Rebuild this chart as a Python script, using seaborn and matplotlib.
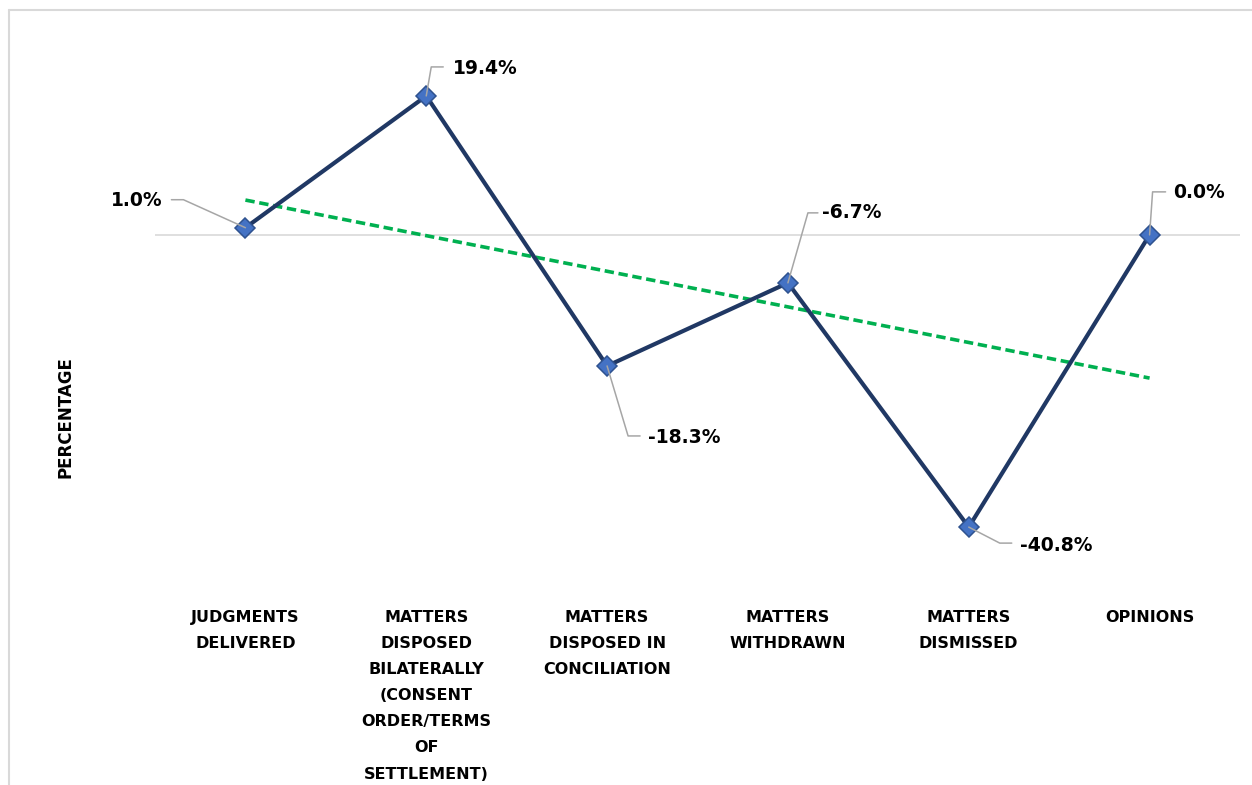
import numpy as np
import pandas as pd
import matplotlib
matplotlib.use("Agg")
import matplotlib.pyplot as plt
import seaborn as sns
from matplotlib.lines import Line2D
from matplotlib.transforms import IdentityTransform

# Category labels (wrapped) and year-on-year percentage change
categories = [
    "JUDGMENTS\nDELIVERED",
    "MATTERS\nDISPOSED\nBILATERALLY\n(CONSENT\nORDER/TERMS\nOF\nSETTLEMENT)",
    "MATTERS\nDISPOSED IN\nCONCILIATION",
    "MATTERS\nWITHDRAWN",
    "MATTERS\nDISMISSED",
    "OPINIONS",
]
change_pct = [1.0, 19.4, -18.3, -6.7, -40.8, 0.0]

sns.set_style("white")
plt.rcParams["font.family"] = ["DejaVu Sans"]

W, H = 1252, 785
fig = plt.figure(figsize=(W / 100, H / 100), dpi=100)
ax = fig.add_axes([155 / W, 1 - 593 / H, (1240 - 155) / W, (593 - 20) / H])

df = pd.DataFrame({"pos": np.arange(len(categories)), "pct": change_pct})

# zero reference line
ax.axhline(0, color="#D9D9D9", lw=1.2, zorder=0)

# linear trend
sns.regplot(data=df, x="pos", y="pct", ax=ax, scatter=False, ci=None,
            truncate=True,
            line_kws=dict(color="#00B050", lw=2.6, dashes=(2.6, 1.3), zorder=2))

# main series
sns.lineplot(data=df, x="pos", y="pct", ax=ax, color="#203864", lw=3,
             marker="D", markersize=10.5, markerfacecolor="#4472C4",
             markeredgecolor="#2F528F", markeredgewidth=1.1, zorder=3)

ax.set_xlim(-0.5, len(categories) - 0.5)
ax.set_ylim(-50, 30)
ax.set_yticks([])
ax.set_xticks(df["pos"])
ax.set_xticklabels(categories, fontsize=11.5, fontweight="bold",
                   linespacing=1.93, color="#000000")
ax.tick_params(axis="x", length=0, pad=12)
ax.set_xlabel("")
ax.set_ylabel("")
for s in ax.spines.values():
    s.set_visible(False)

fig.text(65 / W, 1 - 417 / H, "PERCENTAGE", rotation=90, ha="center",
         va="center", fontsize=12, fontweight="bold", color="#000000")

# data labels with leader lines (offsets in pixels, y up)
label_specs = [
    # text offset, alignment, leader corner, leader end
    ((-83, 27), "right", (-62, 28), (-74, 28)),
    ((27, 27), "left", (5, 29), (17, 29)),
    ((41, -72), "left", (21, -70), (33, -70)),
    ((34, 70), "left", (20, 70), (30, 70)),
    ((51, -18), "left", (31, -16), (43, -16)),
    ((24, 42), "left", (3, 43), (16, 43)),
]
for i, (v, (toff, ha, corner, end)) in enumerate(zip(change_pct, label_specs)):
    bx, by = ax.transData.transform((i, v))
    xs = [bx, bx + corner[0], bx + end[0]]
    ys = [by, by + corner[1], by + end[1]]
    fig.add_artist(Line2D(xs, ys, transform=IdentityTransform(),
                          color="#A6A6A6", lw=1.1, zorder=5))
    ax.annotate(f"{v:.1f}%", xy=(i, v), xytext=toff, textcoords="offset pixels",
                ha=ha, va="center", fontsize=13.5, fontweight="bold",
                color="#000000", annotation_clip=False)

# chart frame
fig.add_artist(Line2D([9 / W, 1], [1 - 10 / H] * 2, transform=fig.transFigure,
                      color="#D9D9D9", lw=1.5))
fig.add_artist(Line2D([9 / W] * 2, [0, 1 - 10 / H], transform=fig.transFigure,
                      color="#D9D9D9", lw=1.5))

fig.savefig("out.png", dpi=100)
